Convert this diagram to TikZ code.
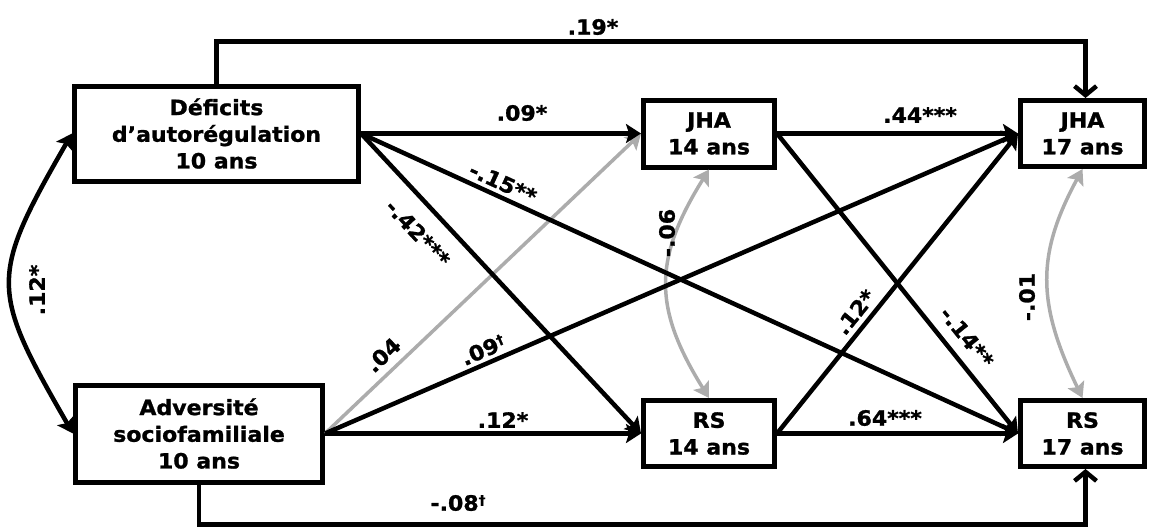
\documentclass[tikz,border=0pt]{standalone}
\usepackage{fontspec}
\setmainfont{DejaVu Sans}[FakeStretch=1.05, BoldFeatures={FakeBold=1.2}]
\usetikzlibrary{arrows.meta}
\definecolor{pathgray}{RGB}{172,172,172}
\newcommand\dagmark{\raisebox{6pt}{\fontsize{13}{13}\selectfont †}}
\begin{document}
\begin{tikzpicture}[x=1pt,y=-1pt,
  font=\fontsize{21}{26.7}\selectfont\bfseries,
  box/.style={draw, line width=5pt, align=center, inner sep=0pt},
  link/.style={line width=4.5pt, -{Stealth[length=15pt,width=19pt,inset=3pt]}},
  glink/.style={line width=3.5pt, draw=pathgray, -{Stealth[length=15pt,width=18pt,inset=3pt]}},
  corr/.style={line width=4.5pt, {Stealth[length=15pt,width=19pt,inset=3pt]}-{Stealth[length=15pt,width=19pt,inset=3pt]}},
  gcorr/.style={line width=3.5pt, draw=pathgray, {Stealth[length=15pt,width=18pt,inset=3pt]}-{Stealth[length=15pt,width=18pt,inset=3pt]}},
  barb/.style={line width=4.5pt, -{Straight Barb[length=9pt,width=22pt]}},
  coef/.style={inner sep=1pt}]
\useasboundingbox (0,0) rectangle (1150,527);

% variables
\node[box, minimum width=284pt, minimum height=95pt] (DA) at (216.5,133.5) {Déficits\\d’autorégulation\\10 ans};
\node[box, minimum width=247pt, minimum height=97pt] (AS) at (199,433.5) {Adversité\\sociofamiliale\\10 ans};
\node[box, minimum width=131pt, minimum height=67pt] (J14) at (709,133.5) {JHA\\14 ans};
\node[box, minimum width=131pt, minimum height=66pt] (R14) at (709,433.5) {RS\\14 ans};
\node[box, minimum width=124pt, minimum height=66pt] (J17) at (1082.5,133.5) {JHA\\17 ans};
\node[box, minimum width=124pt, minimum height=66pt] (R17) at (1082.5,433.5) {RS\\17 ans};

% non-significant paths and residual correlations (grey, drawn underneath)
\draw[glink] (AS.east) -- (J14.west);
\draw[gcorr] (J14.south) .. controls +(-56,90) and +(-56,-90) .. (R14.north);
\draw[gcorr] (J17.south) .. controls +(-46,85) and +(-46,-95) .. (R17.north);

% paths
\draw[link] (DA.east) -- (J14.west);
\draw[link] (DA.east) -- (R14.west);
\draw[link] (DA.east) -- (R17.west);
\draw[link] (AS.east) -- (J17.west);
\draw[link] (AS.east) -- (R14.west);
\draw[link] (J14.east) -- (J17.west);
\draw[link] (J14.east) -- (R17.west);
\draw[link] (R14.east) -- (J17.west);
\draw[link] (R14.east) -- (R17.west);
\draw[barb] (DA.north) -- ++(0,-42) -| ([xshift=3pt]J17.north);
\draw[barb] (AS.south) -- ++(0,40) -| ([xshift=3pt]R17.south);
\draw[corr] (DA.west) .. controls +(-83,144) and +(-83,-144) .. (AS.west);

% coefficients
\node[coef] (c19) at (593,27) {.19*};
\node[coef] (c09a) at (522,113) {.09*};
\node[coef, rotate=-24.5] (c15) at (503,183) {-.15**};
\node[coef, rotate=-47] (c42) at (418,233) {-.42***};
\node[coef, rotate=43.5] (c04) at (383,355) {.04};
\node[coef, rotate=23.4] (c09b) at (483,350) {.09\dagmark};
\node[coef] (c12a) at (503,420) {.12*};
\node[coef] (c08) at (458,503) {-.08\dagmark};
\node[coef] (c44) at (920,115) {.44***};
\node[coef] (c64) at (885,418) {.64***};
\node[coef, rotate=51] (c12b) at (855,312) {.12*};
\node[coef, rotate=-51] (c14) at (967,337) {-.14**};
\node[coef, rotate=90] (c06) at (667,233) {-.06};
\node[coef, rotate=90] (c01) at (1027,297) {-.01};
\node[coef, rotate=90] (c12c) at (37,290) {.12*};
\end{tikzpicture}
\end{document}
